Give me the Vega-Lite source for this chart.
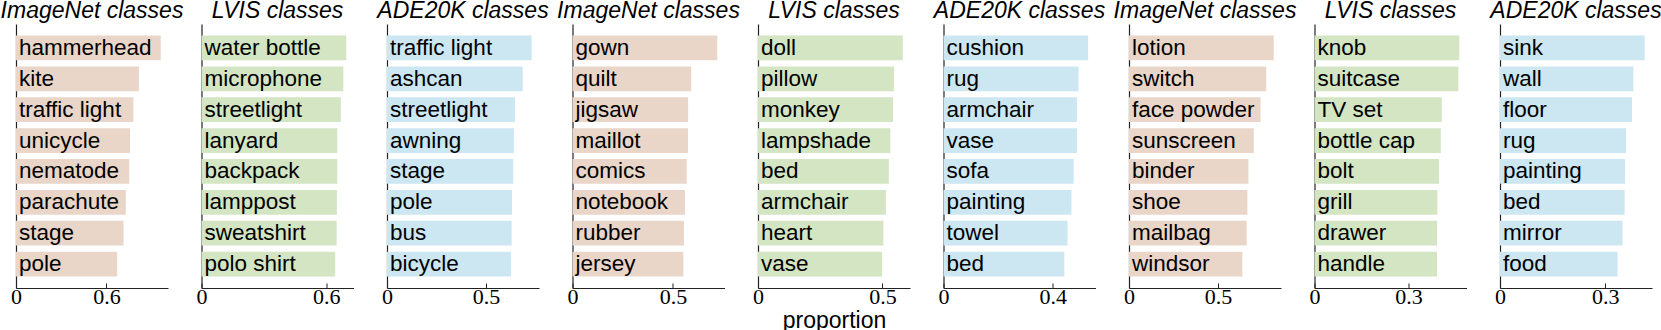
{
  "$schema": "https://vega.github.io/schema/vega-lite/v6.json",
  "padding": 0,
  "background": "white",
  "config": {
    "view": {"stroke": null},
    "axis": {"grid": false, "domainColor": "#222222", "domainWidth": 1.2, "tickColor": "#222222", "tickWidth": 1, "labelColor": "black", "titleColor": "black"},
    "axisX": {"labelFont": "Liberation Serif", "labelFontSize": 22, "tickSize": -5, "labelPadding": 3, "labelFlush": false, "labelOverlap": false, "titleFont": "Liberation Sans", "titleFontSize": 23, "titleFontWeight": "normal", "titlePadding": 2},
    "axisY": {"labels": false, "ticks": false, "title": null},
    "title": {"font": "Liberation Sans", "fontSize": 23, "fontStyle": "italic", "fontWeight": "normal", "color": "black", "baseline": "alphabetic", "offset": 1, "anchor": "middle"},
    "text": {"font": "Liberation Sans", "fontSize": 22.5, "color": "black"}
  },
  "datasets": {
    "d1": [
      {"label": "hammerhead", "value": 0.96},
      {"label": "kite", "value": 0.815},
      {"label": "traffic light", "value": 0.778},
      {"label": "unicycle", "value": 0.756},
      {"label": "nematode", "value": 0.751},
      {"label": "parachute", "value": 0.728},
      {"label": "stage", "value": 0.713},
      {"label": "pole", "value": 0.671}
    ],
    "d2": [
      {"label": "water bottle", "value": 0.696},
      {"label": "microphone", "value": 0.682},
      {"label": "streetlight", "value": 0.67},
      {"label": "lanyard", "value": 0.653},
      {"label": "backpack", "value": 0.653},
      {"label": "lamppost", "value": 0.651},
      {"label": "sweatshirt", "value": 0.65},
      {"label": "polo shirt", "value": 0.643}
    ],
    "d3": [
      {"label": "traffic light", "value": 0.73},
      {"label": "ashcan", "value": 0.685},
      {"label": "streetlight", "value": 0.646},
      {"label": "awning", "value": 0.64},
      {"label": "stage", "value": 0.637},
      {"label": "pole", "value": 0.631},
      {"label": "bus", "value": 0.629},
      {"label": "bicycle", "value": 0.626}
    ],
    "d4": [
      {"label": "gown", "value": 0.721},
      {"label": "quilt", "value": 0.591},
      {"label": "jigsaw", "value": 0.576},
      {"label": "maillot", "value": 0.575},
      {"label": "comics", "value": 0.569},
      {"label": "notebook", "value": 0.56},
      {"label": "rubber", "value": 0.555},
      {"label": "jersey", "value": 0.552}
    ],
    "d5": [
      {"label": "doll", "value": 0.582},
      {"label": "pillow", "value": 0.547},
      {"label": "monkey", "value": 0.543},
      {"label": "lampshade", "value": 0.532},
      {"label": "bed", "value": 0.526},
      {"label": "armchair", "value": 0.514},
      {"label": "heart", "value": 0.504},
      {"label": "vase", "value": 0.499}
    ],
    "d6": [
      {"label": "cushion", "value": 0.529},
      {"label": "rug", "value": 0.494},
      {"label": "armchair", "value": 0.488},
      {"label": "vase", "value": 0.488},
      {"label": "sofa", "value": 0.476},
      {"label": "painting", "value": 0.468},
      {"label": "towel", "value": 0.454},
      {"label": "bed", "value": 0.442}
    ],
    "d7": [
      {"label": "lotion", "value": 0.813},
      {"label": "switch", "value": 0.771},
      {"label": "face powder", "value": 0.739},
      {"label": "sunscreen", "value": 0.701},
      {"label": "binder", "value": 0.671},
      {"label": "shoe", "value": 0.665},
      {"label": "mailbag", "value": 0.661},
      {"label": "windsor", "value": 0.637}
    ],
    "d8": [
      {"label": "knob", "value": 0.462},
      {"label": "suitcase", "value": 0.459},
      {"label": "TV set", "value": 0.406},
      {"label": "bottle cap", "value": 0.403},
      {"label": "bolt", "value": 0.397},
      {"label": "grill", "value": 0.392},
      {"label": "drawer", "value": 0.391},
      {"label": "handle", "value": 0.391}
    ],
    "d9": [
      {"label": "sink", "value": 0.412},
      {"label": "wall", "value": 0.38},
      {"label": "floor", "value": 0.376},
      {"label": "rug", "value": 0.359},
      {"label": "painting", "value": 0.356},
      {"label": "bed", "value": 0.355},
      {"label": "mirror", "value": 0.349},
      {"label": "food", "value": 0.335}
    ]
  },
  "spacing": 33.5,
  "bounds": "flush",
  "hconcat": [
    {
      "width": 152, "height": 264, "title": "ImageNet classes", "data": {"name": "d1"},
      "encoding": {"y": {"field": "label", "type": "nominal", "sort": null, "scale": {"paddingInner": 0.2, "paddingOuter": 0.375}}},
      "layer": [
        {"mark": {"type": "bar", "color": "#e9d6c9"}, "encoding": {"x": {"field": "value", "type": "quantitative", "scale": {"domain": [0, 1.008], "nice": false}, "axis": {"values": [0, 0.6], "format": "~g", "title": null}}}},
        {"mark": {"type": "text", "align": "left", "baseline": "middle", "dx": 3}, "encoding": {"x": {"datum": 0, "type": "quantitative"}, "text": {"field": "label"}}}
      ]
    },
    {
      "width": 152, "height": 264, "title": "LVIS classes", "data": {"name": "d2"},
      "encoding": {"y": {"field": "label", "type": "nominal", "sort": null, "scale": {"paddingInner": 0.2, "paddingOuter": 0.375}}},
      "layer": [
        {"mark": {"type": "bar", "color": "#d3e5c3"}, "encoding": {"x": {"field": "value", "type": "quantitative", "scale": {"domain": [0, 0.731], "nice": false}, "axis": {"values": [0, 0.6], "format": "~g", "title": null}}}},
        {"mark": {"type": "text", "align": "left", "baseline": "middle", "dx": 3}, "encoding": {"x": {"datum": 0, "type": "quantitative"}, "text": {"field": "label"}}}
      ]
    },
    {
      "width": 152, "height": 264, "title": "ADE20K classes", "data": {"name": "d3"},
      "encoding": {"y": {"field": "label", "type": "nominal", "sort": null, "scale": {"paddingInner": 0.2, "paddingOuter": 0.375}}},
      "layer": [
        {"mark": {"type": "bar", "color": "#cce6f2"}, "encoding": {"x": {"field": "value", "type": "quantitative", "scale": {"domain": [0, 0.767], "nice": false}, "axis": {"values": [0, 0.5], "format": "~g", "title": null}}}},
        {"mark": {"type": "text", "align": "left", "baseline": "middle", "dx": 3}, "encoding": {"x": {"datum": 0, "type": "quantitative"}, "text": {"field": "label"}}}
      ]
    },
    {
      "width": 152, "height": 264, "title": "ImageNet classes", "data": {"name": "d4"},
      "encoding": {"y": {"field": "label", "type": "nominal", "sort": null, "scale": {"paddingInner": 0.2, "paddingOuter": 0.375}}},
      "layer": [
        {"mark": {"type": "bar", "color": "#e9d6c9"}, "encoding": {"x": {"field": "value", "type": "quantitative", "scale": {"domain": [0, 0.757], "nice": false}, "axis": {"values": [0, 0.5], "format": "~g", "title": null}}}},
        {"mark": {"type": "text", "align": "left", "baseline": "middle", "dx": 3}, "encoding": {"x": {"datum": 0, "type": "quantitative"}, "text": {"field": "label"}}}
      ]
    },
    {
      "width": 152, "height": 264, "title": "LVIS classes", "data": {"name": "d5"},
      "encoding": {"y": {"field": "label", "type": "nominal", "sort": null, "scale": {"paddingInner": 0.2, "paddingOuter": 0.375}}},
      "layer": [
        {"mark": {"type": "bar", "color": "#d3e5c3"}, "encoding": {"x": {"field": "value", "type": "quantitative", "scale": {"domain": [0, 0.611], "nice": false}, "axis": {"values": [0, 0.5], "format": "~g", "title": "proportion"}}}},
        {"mark": {"type": "text", "align": "left", "baseline": "middle", "dx": 3}, "encoding": {"x": {"datum": 0, "type": "quantitative"}, "text": {"field": "label"}}}
      ]
    },
    {
      "width": 152, "height": 264, "title": "ADE20K classes", "data": {"name": "d6"},
      "encoding": {"y": {"field": "label", "type": "nominal", "sort": null, "scale": {"paddingInner": 0.2, "paddingOuter": 0.375}}},
      "layer": [
        {"mark": {"type": "bar", "color": "#cce6f2"}, "encoding": {"x": {"field": "value", "type": "quantitative", "scale": {"domain": [0, 0.556], "nice": false}, "axis": {"values": [0, 0.4], "format": "~g", "title": null}}}},
        {"mark": {"type": "text", "align": "left", "baseline": "middle", "dx": 3}, "encoding": {"x": {"datum": 0, "type": "quantitative"}, "text": {"field": "label"}}}
      ]
    },
    {
      "width": 152, "height": 264, "title": "ImageNet classes", "data": {"name": "d7"},
      "encoding": {"y": {"field": "label", "type": "nominal", "sort": null, "scale": {"paddingInner": 0.2, "paddingOuter": 0.375}}},
      "layer": [
        {"mark": {"type": "bar", "color": "#e9d6c9"}, "encoding": {"x": {"field": "value", "type": "quantitative", "scale": {"domain": [0, 0.854], "nice": false}, "axis": {"values": [0, 0.5], "format": "~g", "title": null}}}},
        {"mark": {"type": "text", "align": "left", "baseline": "middle", "dx": 3}, "encoding": {"x": {"datum": 0, "type": "quantitative"}, "text": {"field": "label"}}}
      ]
    },
    {
      "width": 152, "height": 264, "title": "LVIS classes", "data": {"name": "d8"},
      "encoding": {"y": {"field": "label", "type": "nominal", "sort": null, "scale": {"paddingInner": 0.2, "paddingOuter": 0.375}}},
      "layer": [
        {"mark": {"type": "bar", "color": "#d3e5c3"}, "encoding": {"x": {"field": "value", "type": "quantitative", "scale": {"domain": [0, 0.485], "nice": false}, "axis": {"values": [0, 0.3], "format": "~g", "title": null}}}},
        {"mark": {"type": "text", "align": "left", "baseline": "middle", "dx": 3}, "encoding": {"x": {"datum": 0, "type": "quantitative"}, "text": {"field": "label"}}}
      ]
    },
    {
      "width": 152, "height": 264, "title": "ADE20K classes", "data": {"name": "d9"},
      "encoding": {"y": {"field": "label", "type": "nominal", "sort": null, "scale": {"paddingInner": 0.2, "paddingOuter": 0.375}}},
      "layer": [
        {"mark": {"type": "bar", "color": "#cce6f2"}, "encoding": {"x": {"field": "value", "type": "quantitative", "scale": {"domain": [0, 0.433], "nice": false}, "axis": {"values": [0, 0.3], "format": "~g", "title": null}}}},
        {"mark": {"type": "text", "align": "left", "baseline": "middle", "dx": 3}, "encoding": {"x": {"datum": 0, "type": "quantitative"}, "text": {"field": "label"}}}
      ]
    }
  ]
}
